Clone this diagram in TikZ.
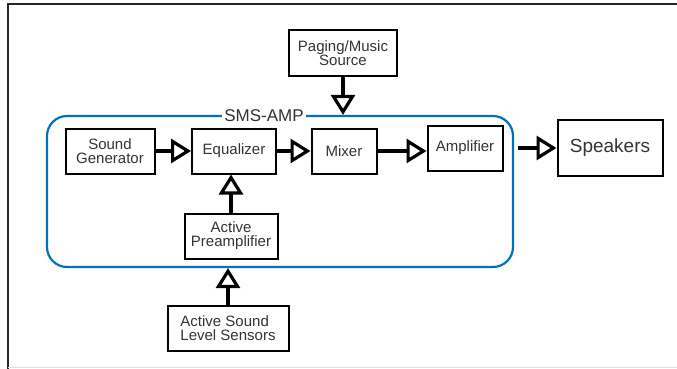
\documentclass[tikz,border=0pt]{standalone}
\usepackage{fontspec}
\setmainfont{Liberation Sans}
\usetikzlibrary{arrows.meta}
\definecolor{smsblue}{RGB}{0,114,188}

\begin{document}
\begin{tikzpicture}[x=1pt, y=-1pt,
    block/.style={draw, line width=2pt, minimum height=45pt, align=center, inner sep=2pt,
        text=black!80, font=\fontsize{15}{14}\selectfont},
    flow/.style={line width=3.2pt, -{Triangle[open, length=20pt, width=24pt, line width=3.2pt]}}]
    \useasboundingbox (0,0) rectangle (677,369);
    % page frame
    \draw[line width=2pt, black!85] (8,369) -- (8,4) -- (677,4);
    \draw[black!12] (8,367.5) -- (677,367.5);
    % SMS-AMP housing
    \node[draw=smsblue, line width=2.2pt, rounded corners=20pt, minimum width=466pt, minimum height=151pt] (smsamp) at (280,191.5) {};
    \node[fill=white, inner sep=2pt, text=black!80, font=\fontsize{17}{17}\selectfont] (smslabel) at (264,116) {SMS-AMP};
    % blocks
    \node[block, minimum width=108pt] (paging) at (343,53) {Paging/Music\\Source};
    \node[block, minimum width=89pt] (sndgen) at (110,151) {Sound\\Generator};
    \node[block, minimum width=84pt] (eq) at (234,151) {Equalizer};
    \node[block, minimum width=65pt] (mixer) at (344,151) {Mixer};
    \node[block, minimum width=75pt] (ampl) at (465,148) {Amplifier};
    \node[block, minimum width=105pt, minimum height=56pt, font=\fontsize{19}{19}\selectfont] (spk) at (610,148) {Speakers};
    \node[block, minimum width=93pt] (preamp) at (231,236) {Active\\Preamplifier};
    \node[block, minimum width=121pt, align=left] (sensors) at (228,328) {Active Sound\\Level Sensors};
    % signal flow
    \draw[flow] (paging) -- (paging |- smsamp.north);
    \draw[flow] (sndgen) -- (eq);
    \draw[flow] (eq) -- (mixer);
    \draw[flow] (mixer.east) -- (mixer.east -| ampl.west);
    \draw[flow] (preamp.north) -- (preamp.north |- eq.south);
    \draw[flow] (sensors.north) -- (sensors.north |- smsamp.south);
    \coordinate (ampout) at ([xshift=4pt]smsamp.east |- spk);
    \draw[flow] (ampout) -- (spk);
\end{tikzpicture}
\end{document}
